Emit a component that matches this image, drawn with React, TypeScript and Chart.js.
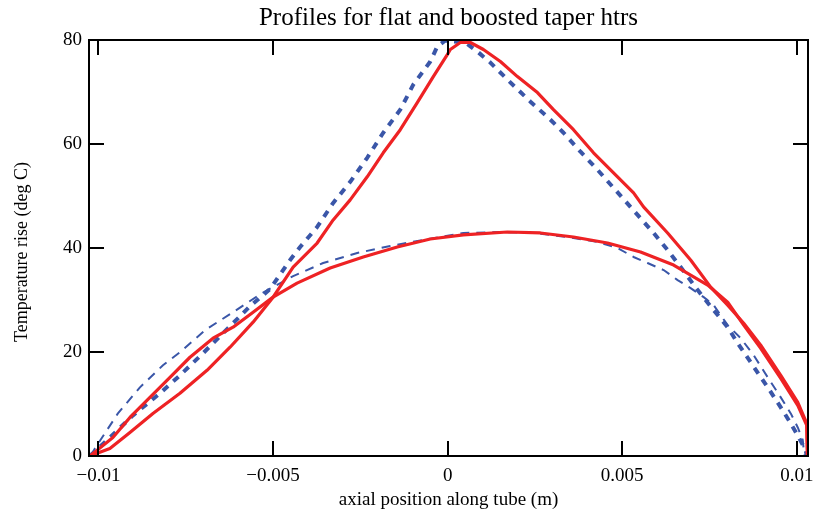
import React, { useEffect, useRef } from "react";
import { Chart, registerables } from "chart.js";

Chart.register(...registerables);

const TITLE = "Profiles for flat and boosted taper htrs";
const X_TITLE = "axial position along tube (m)";
const Y_TITLE = "Temperature rise (deg C)";

const X_TICKS = [-0.01, -0.005, 0, 0.005, 0.01];
const X_TICK_LABELS = ["\u22120.01", "\u22120.005", "0", "0.005", "0.01"];
const Y_TICKS = [0, 20, 40, 60, 80];

// Red solid: boosted taper heater (peaked profile)
const redPeakX = [-0.010245, -0.009672, -0.009098, -0.008439, -0.007665, -0.00689, -0.006231, -0.005571, -0.004998, -0.004424, -0.003736, -0.003277, -0.00279, -0.002303, -0.001844, -0.001356, -0.000869, -0.00041, -0.000009, 0.000077, 0.000364, 0.000651, 0.001024, 0.001511, 0.001999, 0.002572, 0.003031, 0.003604, 0.004178, 0.004751, 0.005325, 0.005611, 0.0063, 0.006959, 0.007533, 0.00802, 0.008479, 0.008966, 0.00954, 0.010027, 0.010285, 0.010305];
const redPeakT = [0, 1.45, 4.53, 8.19, 12.05, 16.48, 20.92, 25.73, 30.55, 36.34, 40.96, 45.4, 49.25, 53.69, 58.31, 62.75, 67.95, 72.96, 77.2, 78.17, 79.52, 79.52, 78.17, 75.86, 72.96, 69.88, 66.6, 62.75, 58.31, 54.46, 50.6, 47.9, 42.89, 37.69, 32.48, 29.01, 25.54, 21.3, 15.52, 10.31, 6.27, 0];

// Red solid: flat heater (dome profile)
const redDomeX = [-0.010245, -0.009586, -0.009098, -0.008525, -0.007951, -0.007378, -0.006718, -0.006145, -0.005571, -0.004998, -0.004311, -0.003364, -0.002417, -0.001442, -0.000496, 0.00045, 0.001712, 0.002658, 0.003604, 0.004579, 0.005525, 0.006472, 0.007447, 0.00802, 0.008479, 0.008966, 0.00954, 0.010027, 0.010285, 0.010305];
const redDomeT = [0, 3.57, 7.42, 11.28, 15.13, 18.99, 22.65, 24.77, 27.66, 30.55, 33.25, 36.14, 38.27, 40.19, 41.73, 42.51, 43.08, 42.89, 42.12, 40.96, 39.23, 36.72, 32.87, 29.59, 25.16, 20.72, 14.94, 9.73, 5.88, 0];

// Blue thick dashed: peaked profile
const bluePeakX = [-0.010245, -0.009758, -0.009012, -0.008238, -0.007665, -0.007005, -0.006431, -0.005657, -0.005084, -0.00451, -0.004224, -0.003736, -0.003277, -0.00279, -0.002303, -0.001844, -0.001356, -0.000984, -0.000496, -0.000295, -0.000066, 0.000507, 0.000852, 0.001224, 0.001712, 0.002371, 0.002945, 0.003318, 0.003805, 0.004293, 0.004751, 0.005439, 0.005898, 0.0063, 0.006672, 0.00716, 0.007619, 0.00802, 0.008307, 0.008679, 0.009167, 0.00954, 0.009826, 0.010056, 0.010256, 0.010285];
const bluePeakT = [0, 2.99, 7.81, 12.05, 15.52, 19.76, 23.61, 28.82, 32.1, 37.69, 40.19, 44.05, 48.67, 52.72, 57.35, 62.17, 66.6, 71.42, 75.86, 78.75, 79.9, 79.52, 77.78, 75.66, 72.39, 68.14, 64.67, 62.17, 58.51, 55.04, 51.57, 46.36, 42.89, 39.61, 36.34, 31.9, 28.05, 24.77, 21.69, 18.02, 13.2, 9.35, 6.27, 3.57, 1.06, 0];

// Blue thin dashed: dome profile
const blueDomeX = [-0.010216, -0.010101, -0.009442, -0.008811, -0.008152, -0.007665, -0.006948, -0.006145, -0.005313, -0.004424, -0.003564, -0.002589, -0.001644, -0.000697, 0.00045, 0.001511, 0.002457, 0.003432, 0.004293, 0.004866, 0.005325, 0.005725, 0.006185, 0.006586, 0.006959, 0.007332, 0.007619, 0.00802, 0.008393, 0.008766, 0.009167, 0.00954, 0.009826, 0.010027, 0.01017, 0.010199, 0.010228];
const blueDomeT = [0, 1.45, 8.19, 13.2, 17.45, 19.95, 24.19, 27.66, 31.33, 34.6, 37.11, 39.04, 40.39, 41.54, 42.89, 43.08, 42.89, 42.12, 41.16, 40.0, 38.27, 37.11, 35.76, 33.83, 32.29, 30.55, 29.01, 25.16, 22.65, 19.37, 15.13, 11.28, 8.19, 5.49, 3.08, 1.06, 0];

const X_MIN = -0.01027;
const X_MAX = 0.01032;

const RED = "#ee2224";
const BLUE = "#3a56a8";
const FONT = '"Liberation Serif", "Times New Roman", serif';

function pts(xs: number[], ys: number[]) {
  return xs.map((x, i) => ({ x, y: ys[i] }));
}

const framePlugin = {
  id: "frameTicks",
  afterDraw(chart: any) {
    const { ctx, chartArea: a, scales } = chart;
    const xs = scales.x;
    const ys = scales.y;
    ctx.save();
    ctx.strokeStyle = "#000";
    ctx.lineWidth = 2;
    ctx.strokeRect(a.left, a.top, a.right - a.left, a.bottom - a.top);
    ctx.beginPath();
    const L = 15;
    for (const t of xs.ticks) {
      const p = Math.round(xs.getPixelForValue(t.value));
      ctx.moveTo(p, a.bottom);
      ctx.lineTo(p, a.bottom - L);
      ctx.moveTo(p, a.top);
      ctx.lineTo(p, a.top + L);
    }
    for (const t of ys.ticks) {
      const p = Math.round(ys.getPixelForValue(t.value));
      ctx.moveTo(a.left, p);
      ctx.lineTo(a.left + L, p);
      ctx.moveTo(a.right, p);
      ctx.lineTo(a.right - L, p);
    }
    ctx.stroke();

    ctx.fillStyle = "#000";
    ctx.textAlign = "center";
    ctx.textBaseline = "middle";
    ctx.font = "25px " + FONT;
    ctx.fillText(TITLE, (a.left + a.right) / 2, 18);
    ctx.font = "19px " + FONT;
    ctx.fillText(X_TITLE, (a.left + a.right) / 2, 500);
    ctx.font = "18px " + FONT;
    ctx.translate(22, 252);
    ctx.rotate(-Math.PI / 2);
    ctx.fillText(Y_TITLE, 0, 0);
    ctx.restore();
  },
};

export default function App() {
  const ref = useRef<HTMLCanvasElement | null>(null);

  useEffect(() => {
    document.body.style.margin = "0";
    const canvas = ref.current;
    if (!canvas) return;
    const chart = new Chart(canvas, {
      type: "line",
      data: {
        datasets: [
          {
            label: "boosted taper (red)",
            data: pts(redPeakX, redPeakT),
            borderColor: RED,
            borderWidth: 3.2,
          },
          {
            label: "flat (red)",
            data: pts(redDomeX, redDomeT),
            borderColor: RED,
            borderWidth: 3.2,
          },
          {
            label: "boosted taper (blue)",
            data: pts(bluePeakX, bluePeakT),
            borderColor: BLUE,
            borderWidth: 4,
            borderDash: [7, 7],
          },
          {
            label: "flat (blue)",
            data: pts(blueDomeX, blueDomeT),
            borderColor: BLUE,
            borderWidth: 2,
            borderDash: [9, 7],
          },
        ] as any,
      },
      options: {
        animation: false,
        responsive: false,
        devicePixelRatio: 1,
        parsing: false as any,
        elements: {
          point: { radius: 0, hoverRadius: 0 },
          line: { tension: 0, fill: false, borderCapStyle: "butt", borderJoinStyle: "round" },
        },
        layout: { padding: { top: 40, right: 17, left: 0, bottom: 0 } },
        plugins: {
          legend: { display: false },
          title: { display: false },
          tooltip: { enabled: false },
        },
        scales: {
          x: {
            type: "linear",
            min: X_MIN,
            max: X_MAX,
            grid: { display: false, drawTicks: false },
            border: { display: false },
            afterBuildTicks: (s: any) => {
              s.ticks = X_TICKS.map((v) => ({ value: v }));
            },
            afterFit: (s: any) => {
              s.height = 63;
            },
            ticks: {
              color: "#000",
              font: { family: FONT, size: 19 },
              padding: 9,
              maxRotation: 0,
              autoSkip: false,
              callback: (v: any) => {
                const i = X_TICKS.findIndex((t) => Math.abs(t - Number(v)) < 1e-9);
                return i >= 0 ? X_TICK_LABELS[i] : "";
              },
            },
          },
          y: {
            type: "linear",
            min: 0,
            max: 80,
            grid: { display: false, drawTicks: false },
            border: { display: false },
            afterBuildTicks: (s: any) => {
              s.ticks = Y_TICKS.map((v) => ({ value: v }));
            },
            afterFit: (s: any) => {
              s.width = 89;
            },
            ticks: {
              color: "#000",
              font: { family: FONT, size: 19 },
              padding: 7,
              callback: (v: any) => String(v),
            },
          },
        },
      },
      plugins: [framePlugin],
    });
    return () => chart.destroy();
  }, []);

  return (
    <div style={{ width: 825, height: 519, background: "#fff" }}>
      <canvas ref={ref} width={825} height={519} style={{ display: "block", width: 825, height: 519 }} />
    </div>
  );
}
